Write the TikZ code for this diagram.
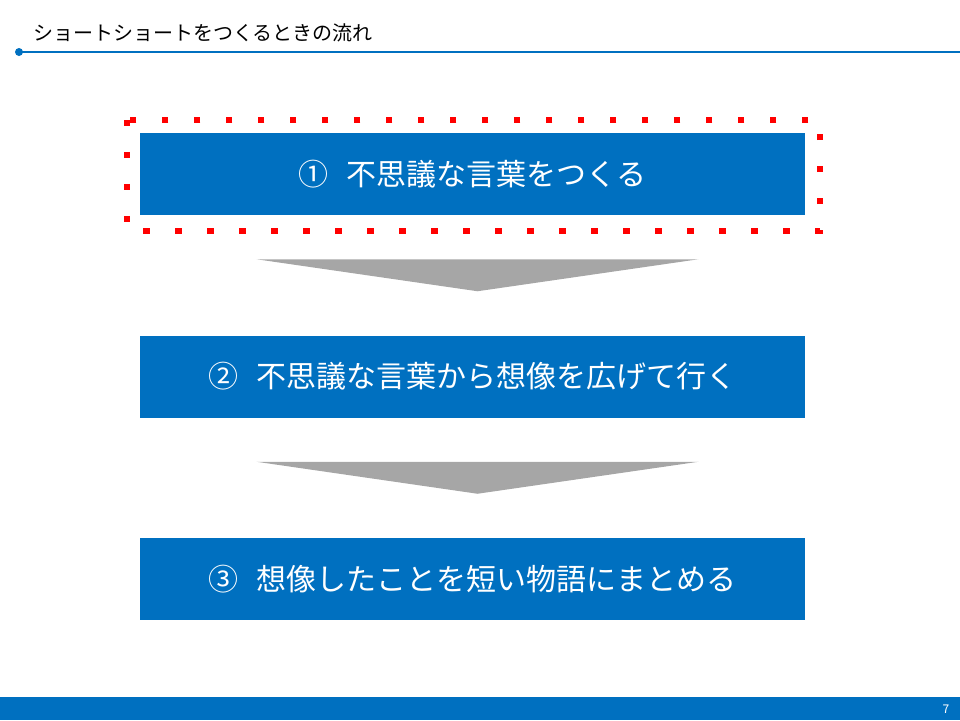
\documentclass[tikz,border=0pt]{standalone}
\usepackage{fontspec}
\setmainfont{Noto Sans CJK JP}
\usepackage{xcolor}
\usepackage{tikz}
\usetikzlibrary{calc}
\definecolor{slideblue}{RGB}{0,112,192}
\definecolor{arrowgray}{RGB}{166,166,166}

\begin{document}
\begin{tikzpicture}[x=1pt,y=-1pt,
 stepbox/.style={fill=slideblue, text=white, minimum width=665pt, minimum height=82pt, inner sep=0pt, font=\fontsize{30}{30}\selectfont},
 flowarrow/.style={fill=arrowgray}]
\useasboundingbox (0,0) rectangle (960,720);
\node[anchor=west, inner sep=0pt, font=\fontsize{20}{20}\selectfont] (title) at (33,33) {ショートショートをつくるときの流れ};
\coordinate (rulestart) at (19,52);
\coordinate (ruleend) at (960,52);
\draw[slideblue, line width=2pt] (rulestart) -- (ruleend);
\fill[slideblue] (rulestart) circle (4pt);
\node[stepbox] (s1) at (472.5,174) {①\hspace{.6em}不思議な言葉をつくる};
\node[stepbox] (s2) at (472.5,376.5) {②\hspace{.6em}不思議な言葉から想像を広げて行く};
\node[stepbox] (s3) at (472.5,579) {③\hspace{.6em}想像したことを短い物語にまとめる};
\draw[red, line width=6.5pt, dash pattern=on 6.5pt off 25.5pt] ($(s1.north west)+(-13,-13)$) rectangle ($(s1.south east)+(15,16)$);
\foreach \a/\b in {s1/s2, s2/s3}
 \fill[flowarrow] ($(\a.south)!.5!(\b.north)+(-216,-16)$) -- ($(\a.south)!.5!(\b.north)+(226,-16)$) -- ($(\a.south)!.5!(\b.north)+(5,16)$) -- cycle;
\fill[slideblue] (0,697) rectangle (960,720);
\node[text=white, inner sep=0pt, font=\fontsize{12}{12}\selectfont] (pagenum) at (946,709) {7};
\end{tikzpicture}
\end{document}
